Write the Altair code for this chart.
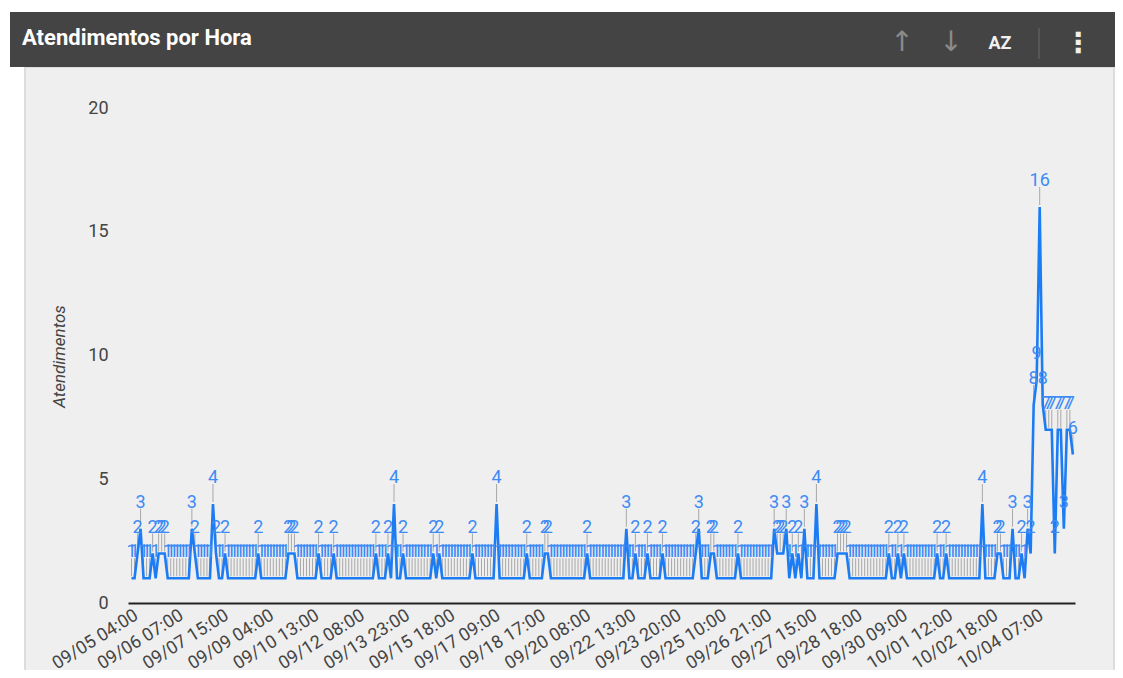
import altair as alt
import pandas as pd

# ---- data -------------------------------------------------------------------
tick_labels = [
    "09/05 04:00", "09/06 07:00", "09/07 15:00", "09/09 04:00", "09/10 13:00",
    "09/12 08:00", "09/13 23:00", "09/15 18:00", "09/17 09:00", "09/18 17:00",
    "09/20 08:00", "09/22 13:00", "09/23 20:00", "09/25 10:00", "09/26 21:00",
    "09/27 15:00", "09/28 18:00", "09/30 09:00", "10/01 12:00", "10/02 18:00",
    "10/04 07:00",
]
categories_per_label = 15

# one value per hour-category, 15 categories per labelled tick
atendimentos = [
    1, 1, 2, 3, 1, 1, 1, 2, 1, 2, 2, 2, 1, 1, 1,
    1, 1, 1, 1, 1, 3, 2, 1, 1, 1, 1, 1, 4, 2, 1,
    1, 2, 1, 1, 1, 1, 1, 1, 1, 1, 1, 1, 2, 1, 1,
    1, 1, 1, 1, 1, 1, 1, 2, 2, 2, 1, 1, 1, 1, 1,
    1, 1, 2, 1, 1, 1, 1, 2, 1, 1, 1, 1, 1, 1, 1,
    1, 1, 1, 1, 1, 1, 2, 1, 1, 1, 2, 1, 4, 1, 1,
    2, 1, 1, 1, 1, 1, 1, 1, 1, 1, 2, 1, 2, 1, 1,
    1, 1, 1, 1, 1, 1, 1, 1, 2, 1, 1, 1, 1, 1, 1,
    1, 4, 1, 1, 1, 1, 1, 1, 1, 1, 1, 2, 1, 1, 1,
    1, 1, 2, 2, 1, 1, 1, 1, 1, 1, 1, 1, 1, 1, 1,
    1, 2, 1, 1, 1, 1, 1, 1, 1, 1, 1, 1, 1, 1, 3,
    1, 1, 2, 1, 1, 1, 2, 1, 1, 1, 1, 2, 1, 1, 1,
    1, 1, 1, 1, 1, 1, 1, 2, 3, 1, 1, 1, 2, 2, 1,
    1, 1, 1, 1, 1, 1, 2, 1, 1, 1, 1, 1, 1, 1, 1,
    1, 1, 1, 3, 2, 2, 2, 3, 1, 2, 1, 2, 1, 3, 1,
    1, 1, 4, 1, 1, 1, 1, 1, 1, 2, 2, 2, 2, 1, 1,
    1, 1, 1, 1, 1, 1, 1, 1, 1, 1, 1, 2, 1, 1, 2,
    1, 2, 1, 1, 1, 1, 1, 1, 1, 1, 1, 1, 2, 1, 1,
    2, 1, 1, 1, 1, 1, 1, 1, 1, 1, 1, 1, 4, 1, 1,
    1, 1, 2, 2, 1, 1, 1, 3, 1, 1, 2, 1, 3, 2, 8,
    9, 16, 8, 7, 7, 7, 2, 7, 7, 3, 7, 7, 6,
]

df = pd.DataFrame({"hora": list(range(len(atendimentos))), "atendimentos": atendimentos})

label_array = "[" + ",".join("'" + t + "'" for t in tick_labels) + "]"
label_expr = label_array + "[round(datum.value / " + str(categories_per_label) + ")]"
tick_values = [i * categories_per_label for i in range(len(tick_labels))]

W, H = 947, 495
LINE = "#1c7cf4"
LABEL = "#3d8bf5"
FONT = "Roboto"

x_enc = alt.X(
    "hora:Q",
    scale=alt.Scale(domain=[-1.16, 312.7], nice=False, zero=False),
    axis=alt.Axis(
        values=tick_values, labelExpr=label_expr, title=None, zindex=1,
        labelAngle=-32, labelAlign="right", labelBaseline="top", labelPadding=3,
        labelFontSize=18, labelColor="#444444", labelFont=FONT,
        labelOverlap=False, labelBound=False, labelFlush=False,
        ticks=False, grid=False, domain=True, domainColor="#222222", domainWidth=2,
    ),
)
y_enc = alt.Y(
    "atendimentos:Q",
    scale=alt.Scale(domain=[0, 20], nice=False),
    axis=alt.Axis(
        values=[0, 5, 10, 15, 20], title="Atendimentos", zindex=1,
        titleFontStyle="italic", titleFontWeight="normal", titleFontSize=17,
        titleFont=FONT, titleColor="#444444", titleX=-69, titleY=248,
        titleAngle=-90, titleAlign="center", titleBaseline="middle",
        labelFontSize=18, labelColor="#444444", labelFont=FONT, labelPadding=20,
        ticks=False, tickSize=0, grid=False, domain=False,
    ),
)

one = alt.Data(values=[{"k": 0}])

panel_shadow = alt.Chart(one).mark_rect(color="#dcdcdc").encode(
    x=alt.value(-104), x2=alt.value(987), y=alt.value(-41), y2=alt.value(575))
panel = alt.Chart(one).mark_rect(color="#efefef").encode(
    x=alt.value(-102), x2=alt.value(985), y=alt.value(-40), y2=alt.value(575))
header = alt.Chart(one).mark_rect(color="#444444").encode(
    x=alt.value(-118), x2=alt.value(990), y=alt.value(-96), y2=alt.value(-41))
title = alt.Chart(one).mark_text(
    text="Atendimentos por Hora", align="left", baseline="middle",
    font=FONT, fontSize=22, fontWeight="bold", color="#ffffff",
).encode(x=alt.value(-106), y=alt.value(-70))
up = alt.Chart(one).mark_text(text="↑", font="DejaVu Sans", fontSize=28, color="#8a8a8a",
                              align="center", baseline="middle").encode(x=alt.value(774), y=alt.value(-65))
down = alt.Chart(one).mark_text(text="↓", font="DejaVu Sans", fontSize=28, color="#8a8a8a",
                                align="center", baseline="middle").encode(x=alt.value(823), y=alt.value(-65))
az = alt.Chart(one).mark_text(text="AZ", font=FONT, fontSize=18, fontWeight="bold", color="#f0f0f0",
                              align="center", baseline="middle").encode(x=alt.value(872), y=alt.value(-64))
sep = alt.Chart(one).mark_rule(color="#6a6a6a", strokeWidth=1).encode(
    x=alt.value(911), y=alt.value(-80), y2=alt.value(-49))
kebab = alt.Chart(one).mark_text(text="⋮", font="DejaVu Sans", fontSize=28, fontWeight="bold",
                                 color="#f0f0f0", align="center", baseline="middle").encode(
    x=alt.value(950), y=alt.value(-64))

base = alt.Chart(df)
leaders = base.mark_rule(color="#a8a8a8", strokeWidth=1, yOffset=-2, y2Offset=-20).encode(
    x=x_enc, y=y_enc, y2=alt.Y2("atendimentos:Q"))
line = base.mark_line(color=LINE, strokeWidth=2.6).encode(x=x_enc, y=y_enc)
labels = base.mark_text(color=LABEL, font=FONT, fontSize=18, dy=-21, baseline="alphabetic",
                        align="center").encode(x=x_enc, y=y_enc, text="atendimentos:Q")

chart = alt.layer(
    panel_shadow, panel, header, title, up, down, az, sep, kebab,
    leaders, line, labels,
).properties(
    width=W, height=H,
    autosize=alt.AutoSizeParams(type="none"),
    padding={"left": 120, "top": 100, "right": 40, "bottom": 67},
    background="#ffffff",
).configure_view(strokeWidth=0)

chart.save("out.html", embed_options={"renderer": "svg", "actions": False})
